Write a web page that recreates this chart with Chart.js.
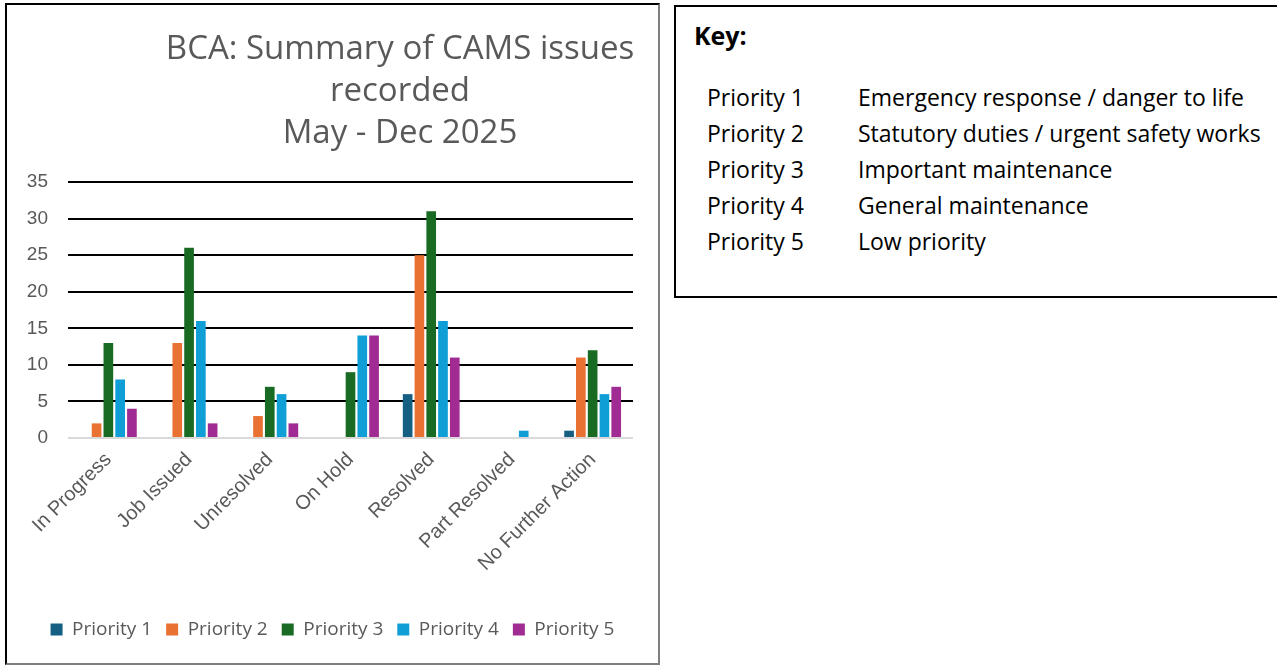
<!DOCTYPE html>
<html>
<head>
<meta charset="utf-8">
<script src="https://cdn.jsdelivr.net/npm/chart.js@4"></script>
<style>
  body { margin: 0; background: #fff; width: 1277px; height: 666px; position: relative; overflow: hidden; }
  #chartBox { position: absolute; left: 5px; top: 3px; width: 655px; height: 662px; box-sizing: border-box;
              border: 2px solid #000; border-right-color: #7f7f7f; border-bottom-color: #7f7f7f; }
  #chartBox canvas { position: absolute; left: 0; top: 0; }
  #keyBox { position: absolute; left: 674px; top: 5px; width: 610px; height: 293px; box-sizing: border-box;
            border: 2px solid #000; font-family: 'Open Sans', sans-serif; color: #000; }
  #keyBox h3 { position: absolute; left: 18px; top: 11px; margin: 0; font-size: 25px; font-weight: bold; }
  #keyBox table { position: absolute; left: 31px; top: 72px; border-collapse: collapse; font-size: 23px; }
  #keyBox td { padding: 0; height: 36px; white-space: nowrap; }
  #keyBox td.p { width: 151px; }
</style>
</head>
<body>
<div id="chartBox"><canvas id="barChart" width="651" height="658"></canvas></div>
<div id="keyBox">
  <h3>Key:</h3>
  <table id="keyTable"></table>
</div>
<script>
const categories = ['In Progress', 'Job Issued', 'Unresolved', 'On Hold', 'Resolved', 'Part Resolved', 'No Further Action'];
const priority1 = [0, 0, 0, 0, 6, 0, 1];
const priority2 = [2, 13, 3, 0, 25, 0, 11];
const priority3 = [13, 26, 7, 9, 31, 0, 12];
const priority4 = [8, 16, 6, 14, 16, 1, 6];
const priority5 = [4, 2, 2, 14, 11, 0, 7];
const seriesNames = ['Priority 1', 'Priority 2', 'Priority 3', 'Priority 4', 'Priority 5'];
const seriesColors = ['#156082', '#E97132', '#196B24', '#0F9ED5', '#A02B93'];
const keyDescriptions = ['Emergency response / danger to life', 'Statutory duties / urgent safety works',
  'Important maintenance', 'General maintenance', 'Low priority'];
const titleLines = ['BCA: Summary of CAMS issues', 'recorded', 'May - Dec 2025'];

// key table on the right
const keyTable = document.getElementById('keyTable');
seriesNames.forEach((name, i) => {
  const tr = document.createElement('tr');
  tr.innerHTML = '<td class="p">' + name + '</td><td>' + keyDescriptions[i] + '</td>';
  keyTable.appendChild(tr);
});

const allSeries = [priority1, priority2, priority3, priority4, priority5];

// title drawn offset to the right like the original
const titlePlugin = {
  id: 'offsetTitle',
  afterDraw(chart) {
    const ctx = chart.ctx;
    ctx.save();
    ctx.fillStyle = '#595959';
    ctx.font = '33px "Open Sans"';
    ctx.textAlign = 'center';
    ctx.textBaseline = 'middle';
    titleLines.forEach((line, i) => ctx.fillText(line, 393, 45 + i * 42));
    ctx.restore();
  }
};

new Chart(document.getElementById('barChart'), {
  type: 'bar',
  data: {
    labels: categories,
    datasets: allSeries.map((vals, i) => ({
      label: seriesNames[i],
      data: vals,
      backgroundColor: seriesColors[i],
      categoryPercentage: 0.73,
      barPercentage: 0.82
    }))
  },
  options: {
    responsive: false,
    animation: false,
    layout: { padding: { top: 177, left: 0, right: 0, bottom: 14 } },
    plugins: {
      legend: {
        position: 'bottom',
        labels: {
          boxWidth: 12, boxHeight: 12, padding: 14,
          color: '#595959',
          font: { family: 'Open Sans', size: 19 }
        }
      },
      tooltip: { enabled: false }
    },
    scales: {
      x: {
        grid: { display: false },
        border: { display: false },
        ticks: {
          minRotation: 45, maxRotation: 45, padding: 2,
          color: '#595959',
          font: { family: 'Liberation Sans', size: 20 }
        },
        afterFit(scale) { scale.height = 168; }
      },
      y: {
        min: 0, max: 35,
        border: { display: false },
        grid: {
          drawTicks: false,
          lineWidth: 2,
          color: c => c.tick.value === 0 ? '#d9d9d9' : '#000'
        },
        ticks: {
          stepSize: 5, padding: 20,
          color: '#595959',
          font: { family: 'Liberation Sans', size: 19 }
        },
        afterFit(scale) { scale.width = 61; }
      },
      // empty right margin so the legend stays centred on the whole box
      yRight: {
        position: 'right',
        grid: { display: false },
        border: { display: false },
        ticks: { display: false },
        afterFit(scale) { scale.width = 25; }
      }
    }
  },
  plugins: [titlePlugin]
});
</script>
</body>
</html>
